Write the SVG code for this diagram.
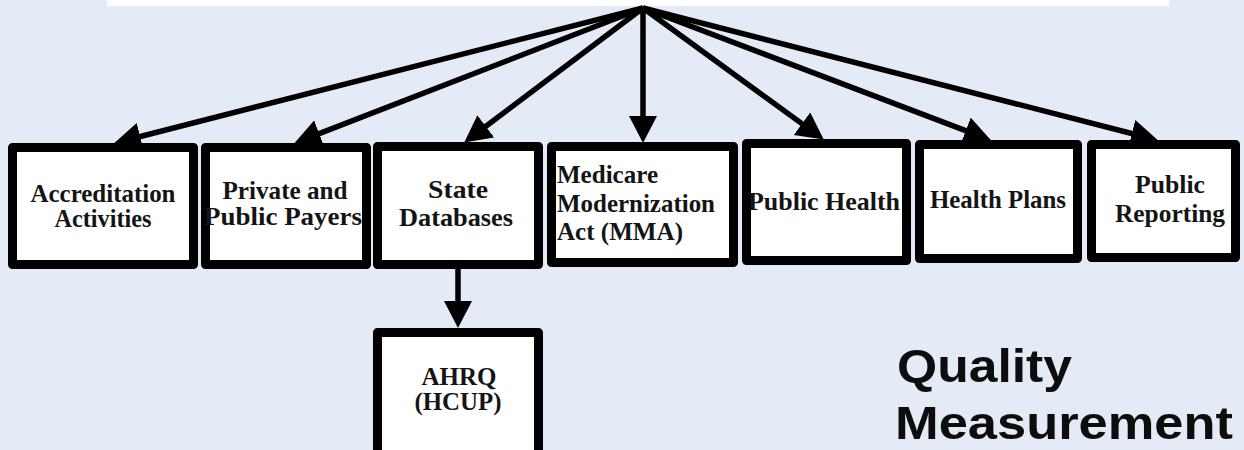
<svg xmlns="http://www.w3.org/2000/svg" width="1244" height="450" viewBox="0 0 1244 450">
  <style>
    .box { fill: #ffffff; stroke: #000000; stroke-width: 9; stroke-linejoin: round; }
    .lbl { font-family: "Liberation Serif", "Times New Roman", serif; font-weight: bold; font-size: 25px; fill: #141414; text-anchor: middle; }
    .lft { text-anchor: start; }
    .conn { stroke: #000000; stroke-width: 5.5; fill: none; marker-end: url(#ah); }
    .big { font-family: "Liberation Sans", Arial, sans-serif; font-weight: bold; font-size: 46px; fill: #0d0d0d; }
  </style>
  <defs>
    <marker id="ah" markerUnits="userSpaceOnUse" markerWidth="30" markerHeight="30" refX="16" refY="14" orient="auto">
      <path d="M0,0 L27,14 L0,28 z" fill="#000000"/>
    </marker>
  </defs>
  <rect x="0" y="0" width="1244" height="450" fill="#e4ebf7"/>
  <rect id="banner" x="107" y="0" width="1062" height="6" fill="#ffffff"/>

  <g id="n-accreditation">
    <rect class="box" x="12.5" y="147.5" width="181" height="117"/>
    <text class="lbl" x="103" y="202" textLength="145" lengthAdjust="spacingAndGlyphs">Accreditation</text>
    <text class="lbl" x="103" y="227" textLength="97" lengthAdjust="spacingAndGlyphs">Activities</text>
  </g>
  <g id="n-payers">
    <rect class="box" x="205.5" y="147.5" width="161" height="117"/>
    <text class="lbl" x="285" y="199" textLength="125" lengthAdjust="spacingAndGlyphs">Private and</text>
    <text class="lbl" x="283" y="225" textLength="158" lengthAdjust="spacingAndGlyphs">Public Payers</text>
  </g>
  <g id="n-state">
    <rect class="box" x="377.5" y="146.5" width="161" height="118"/>
    <text class="lbl" x="458" y="198" textLength="60" lengthAdjust="spacingAndGlyphs">State</text>
    <text class="lbl" x="456" y="226" textLength="114" lengthAdjust="spacingAndGlyphs">Databases</text>
  </g>
  <g id="n-mma">
    <rect class="box" x="551.5" y="146.5" width="182" height="116"/>
    <text class="lbl lft" x="557" y="183" textLength="101" lengthAdjust="spacingAndGlyphs">Medicare</text>
    <text class="lbl lft" x="557" y="212" textLength="158" lengthAdjust="spacingAndGlyphs">Modernization</text>
    <text class="lbl lft" x="557" y="240" textLength="126" lengthAdjust="spacingAndGlyphs">Act (MMA)</text>
  </g>
  <g id="n-publichealth">
    <rect class="box" x="746.5" y="143.5" width="160" height="117"/>
    <text class="lbl" x="824" y="210" textLength="152" lengthAdjust="spacingAndGlyphs">Public Health</text>
  </g>
  <g id="n-healthplans">
    <rect class="box" x="919.5" y="144.5" width="158" height="114"/>
    <text class="lbl" x="998" y="208" textLength="136" lengthAdjust="spacingAndGlyphs">Health Plans</text>
  </g>
  <g id="n-reporting">
    <rect class="box" x="1091.5" y="144.5" width="144" height="113"/>
    <text class="lbl" x="1170" y="193" textLength="70" lengthAdjust="spacingAndGlyphs">Public</text>
    <text class="lbl" x="1170" y="222" textLength="110" lengthAdjust="spacingAndGlyphs">Reporting</text>
  </g>
  <g id="n-ahrq">
    <rect class="box" x="377.5" y="332.5" width="161" height="130"/>
    <text class="lbl" x="459" y="385" textLength="75" lengthAdjust="spacingAndGlyphs">AHRQ</text>
    <text class="lbl" x="458" y="410" textLength="87" lengthAdjust="spacingAndGlyphs">(HCUP)</text>
  </g>

  <g id="connectors">
    <line class="conn" x1="643" y1="8" x2="124.7" y2="140.5"/>
    <line class="conn" x1="643" y1="8" x2="304.3" y2="139.4"/>
    <line class="conn" x1="643" y1="8" x2="473" y2="136"/>
    <line class="conn" x1="643" y1="8" x2="643" y2="132"/>
    <line class="conn" x1="643" y1="8" x2="814.9" y2="133.1"/>
    <line class="conn" x1="643" y1="8" x2="980.7" y2="136.4"/>
    <line class="conn" x1="643" y1="8" x2="1147.3" y2="137.5"/>
    <line class="conn" x1="458" y1="269" x2="458" y2="317"/>
  </g>

  <g id="caption">
    <text class="big" x="897" y="382" textLength="175" lengthAdjust="spacingAndGlyphs">Quality</text>
    <text class="big" x="895" y="439" textLength="338" lengthAdjust="spacingAndGlyphs">Measurement</text>
  </g>
</svg>
